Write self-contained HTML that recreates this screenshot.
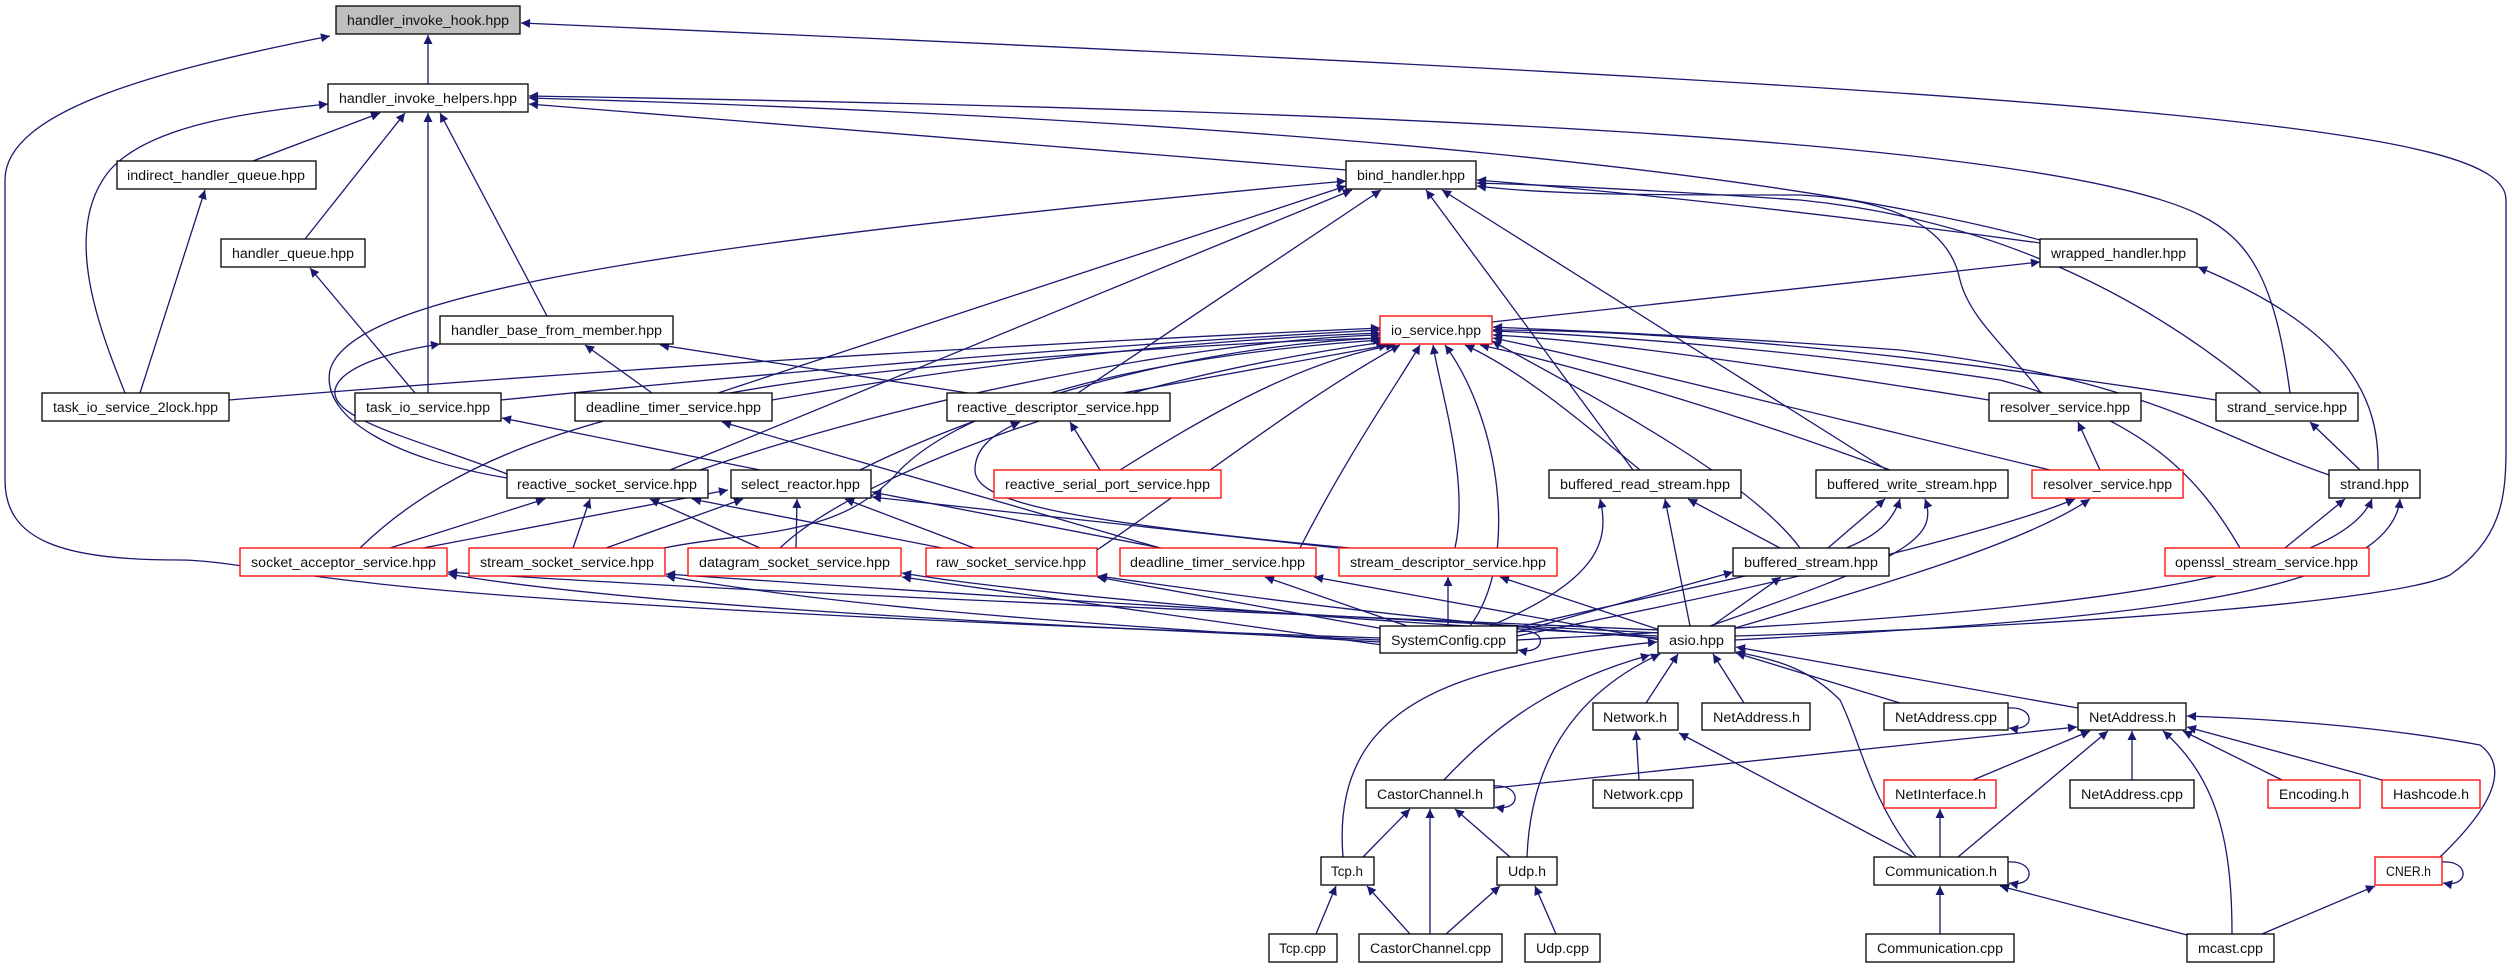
<!DOCTYPE html>
<html><head><meta charset="utf-8"><style>
html,body{margin:0;padding:0;background:#fff;}
svg{display:block}
text{font-family:"Liberation Sans","DejaVu Sans",sans-serif;font-size:13.5px;fill:#111;}
.e{fill:none;stroke:#191970;stroke-width:1.3;marker-end:url(#a)}
.b{fill:#fff;stroke:#000;stroke-width:1.3}
.r{fill:#fff;stroke:#ff0000;stroke-width:1.3}
</style></head><body>
<svg width="2512" height="968" viewBox="0 0 2512 968" xmlns="http://www.w3.org/2000/svg">
<defs><marker id="a" viewBox="0 0 10 10" refX="10" refY="5" markerWidth="12" markerHeight="9" markerUnits="userSpaceOnUse" orient="auto"><path d="M0,0 L10,5 L0,10 z" fill="#191970"/></marker></defs>
<g>
<path class="e" d="M428,84 L428,35"/>
<path class="e" d="M1380,638 C1000,625 700,610 500,595 C300,580 230,560 180,560 C60,560 5,540 5,480 L5,180 C5,110 160,70 330,36"/>
<path class="e" d="M1735,636 C2100,625 2400,600 2450,575 C2500,540 2506,500 2506,450 L2506,200 C2506,130 2200,95 521,23"/>
<path class="e" d="M253,161 L380,113"/>
<path class="e" d="M125,393 C100,330 60,230 110,170 C150,125 250,112 328,104"/>
<path class="e" d="M305,239 L405,113"/>
<path class="e" d="M428,393 L428,113"/>
<path class="e" d="M547,316 L440,113"/>
<path class="e" d="M1346,170 L529,104"/>
<path class="e" d="M2040,240 C1800,175 1300,120 529,98"/>
<path class="e" d="M2290,393 C2275,280 2250,240 2200,215 C2050,140 1400,110 529,96"/>
<path class="e" d="M140,393 L205,190"/>
<path class="e" d="M415,393 L310,268"/>
<path class="e" d="M652,393 L585,345"/>
<path class="e" d="M507,474 C420,440 330,420 335,390 C340,365 400,350 440,344"/>
<path class="e" d="M968,393 L660,345"/>
<path class="e" d="M507,478 C400,460 320,420 330,370 C350,300 600,250 1346,181"/>
<path class="e" d="M718,393 L1346,186"/>
<path class="e" d="M670,470 L1352,190"/>
<path class="e" d="M1078,393 L1381,190"/>
<path class="e" d="M1633,470 L1426,190"/>
<path class="e" d="M1887,470 L1442,190"/>
<path class="e" d="M2040,243 C1800,210 1600,190 1477,180"/>
<path class="e" d="M2041,393 C2010,350 1970,320 1960,280 C1950,230 1900,200 1800,195 C1650,195 1550,195 1477,186"/>
<path class="e" d="M2261,393 C2150,300 2000,220 1800,200 C1650,190 1550,185 1477,183"/>
<path class="e" d="M1492,322 L2040,262"/>
<path class="e" d="M2378,470 C2380,400 2350,330 2198,267"/>
<path class="e" d="M229,400 C600,370 1000,345 1380,328"/>
<path class="e" d="M501,400 C800,370 1100,345 1380,330"/>
<path class="e" d="M772,400 C1000,360 1200,340 1380,333"/>
<path class="e" d="M1123,393 L1388,345"/>
<path class="e" d="M1120,470 C1200,420 1300,360 1395,345"/>
<path class="e" d="M700,470 C900,400 1200,340 1380,335"/>
<path class="e" d="M860,470 C1000,400 1200,345 1382,338"/>
<path class="e" d="M360,548 C450,460 600,400 900,370 C1100,350 1300,340 1380,338"/>
<path class="e" d="M664,548 C750,530 840,540 900,470 C1000,370 1300,345 1382,340"/>
<path class="e" d="M780,548 C850,480 1100,380 1385,342"/>
<path class="e" d="M1097,550 C1200,480 1300,400 1400,345"/>
<path class="e" d="M1300,548 C1350,450 1400,380 1420,345"/>
<path class="e" d="M1455,548 C1470,480 1440,390 1433,345"/>
<path class="e" d="M1470,626 C1520,560 1500,420 1445,345"/>
<path class="e" d="M1640,470 C1580,420 1520,370 1465,345"/>
<path class="e" d="M1890,470 C1700,400 1550,360 1480,345"/>
<path class="e" d="M1800,548 C1750,480 1600,400 1492,341"/>
<path class="e" d="M1989,400 C1800,370 1600,340 1493,335"/>
<path class="e" d="M2050,470 C1800,410 1600,360 1493,338"/>
<path class="e" d="M2216,400 C1900,350 1650,330 1493,330"/>
<path class="e" d="M2329,475 C2200,430 2150,380 1900,350 C1700,335 1550,330 1493,327"/>
<path class="e" d="M2240,548 C2200,480 2150,420 2000,380 C1800,350 1600,335 1493,331"/>
<path class="e" d="M760,470 L502,418"/>
<path class="e" d="M1160,548 L722,422"/>
<path class="e" d="M1100,470 L1070,422"/>
<path class="e" d="M1350,548 C1050,520 975,500 975,470 C975,450 990,435 1020,422"/>
<path class="e" d="M390,548 L545,499"/>
<path class="e" d="M573,548 L590,499"/>
<path class="e" d="M760,548 L650,499"/>
<path class="e" d="M942,548 L692,499"/>
<path class="e" d="M423,548 L728,490"/>
<path class="e" d="M606,548 L743,499"/>
<path class="e" d="M796,548 L797,499"/>
<path class="e" d="M974,548 L845,499"/>
<path class="e" d="M1161,548 L872,492"/>
<path class="e" d="M1338,548 L872,497"/>
<path class="e" d="M1380,640 C900,620 600,600 448,574"/>
<path class="e" d="M1380,642 C1000,620 800,600 666,576"/>
<path class="e" d="M1382,645 L902,577"/>
<path class="e" d="M1390,630 L1097,577"/>
<path class="e" d="M1407,626 L1265,577"/>
<path class="e" d="M1448,626 L1448,577"/>
<path class="e" d="M1490,626 C1600,580 1610,540 1600,499"/>
<path class="e" d="M1515,628 C1800,560 1880,560 1900,499"/>
<path class="e" d="M1517,632 L1733,572"/>
<path class="e" d="M1517,636 C1800,580 2000,530 2075,499"/>
<path class="e" d="M1517,640 C1900,620 2330,600 2372,499"/>
<path class="e" d="M1517,632 C1548,626 1548,656 1518,650"/>
<path class="e" d="M1658,630 C1200,610 700,590 448,572"/>
<path class="e" d="M1658,633 C1200,610 900,590 666,574"/>
<path class="e" d="M1658,636 C1300,620 1000,590 902,573"/>
<path class="e" d="M1658,638 C1400,620 1200,590 1098,576"/>
<path class="e" d="M1660,640 L1314,577"/>
<path class="e" d="M1660,630 L1500,577"/>
<path class="e" d="M1690,626 L1665,499"/>
<path class="e" d="M1710,626 C1900,560 1940,540 1925,499"/>
<path class="e" d="M1712,626 L1781,577"/>
<path class="e" d="M1735,628 C1900,580 2030,540 2090,499"/>
<path class="e" d="M1735,640 C2100,620 2390,600 2400,499"/>
<path class="e" d="M1780,548 L1688,499"/>
<path class="e" d="M1828,548 L1885,499"/>
<path class="e" d="M2100,470 L2078,422"/>
<path class="e" d="M2360,470 L2310,422"/>
<path class="e" d="M2285,548 L2345,499"/>
<path class="e" d="M1646,703 L1678,654"/>
<path class="e" d="M1744,703 L1713,654"/>
<path class="e" d="M1900,703 L1736,653"/>
<path class="e" d="M2078,708 L1736,647"/>
<path class="e" d="M1444,780 C1500,720 1560,680 1650,655"/>
<path class="e" d="M1343,857 C1335,760 1380,700 1500,670 C1560,655 1620,645 1657,642"/>
<path class="e" d="M1527,857 C1530,780 1560,700 1660,654"/>
<path class="e" d="M1916,857 C1870,800 1860,740 1840,700 C1810,670 1780,660 1736,652"/>
<path class="e" d="M1639,780 L1636,731"/>
<path class="e" d="M1913,857 L1679,733"/>
<path class="e" d="M1494,786 C1522,784 1522,812 1495,807"/>
<path class="e" d="M1494,788 L2077,727"/>
<path class="e" d="M1973,780 L2090,731"/>
<path class="e" d="M1958,857 L2108,731"/>
<path class="e" d="M2132,780 L2132,731"/>
<path class="e" d="M2232,934 C2232,850 2220,780 2163,731"/>
<path class="e" d="M2282,780 L2183,731"/>
<path class="e" d="M2382,780 L2187,727"/>
<path class="e" d="M2440,857 C2510,790 2500,760 2480,745 C2400,730 2300,720 2187,716"/>
<path class="e" d="M1940,857 L1940,809"/>
<path class="e" d="M2008,862 C2036,860 2036,888 2009,883"/>
<path class="e" d="M1940,934 L1940,886"/>
<path class="e" d="M2187,935 L2000,886"/>
<path class="e" d="M2262,934 L2375,886"/>
<path class="e" d="M2442,862 C2470,860 2470,888 2443,883"/>
<path class="e" d="M1316,934 L1336,886"/>
<path class="e" d="M1410,934 L1367,886"/>
<path class="e" d="M1363,857 L1410,809"/>
<path class="e" d="M1430,934 L1430,809"/>
<path class="e" d="M1510,857 L1455,809"/>
<path class="e" d="M1446,934 L1500,886"/>
<path class="e" d="M1556,934 L1535,886"/>
<path class="e" d="M2008,708 C2036,706 2036,732 2009,728"/>
</g>
<g>
<rect x="336" y="6" width="184" height="28" fill="#bfbfbf" stroke="#000" stroke-width="1.3"/><text x="347" y="25" textLength="162" lengthAdjust="spacingAndGlyphs">handler_invoke_hook.hpp</text>
<rect class="b" x="328" y="84" width="200" height="28"/><text x="339" y="103" textLength="178" lengthAdjust="spacingAndGlyphs">handler_invoke_helpers.hpp</text>
<rect class="b" x="117" y="161" width="199" height="28"/><text x="127" y="180" textLength="178" lengthAdjust="spacingAndGlyphs">indirect_handler_queue.hpp</text>
<rect class="b" x="221" y="239" width="144" height="28"/><text x="232" y="258" textLength="122" lengthAdjust="spacingAndGlyphs">handler_queue.hpp</text>
<rect class="b" x="440" y="316" width="233" height="28"/><text x="451" y="335" textLength="211" lengthAdjust="spacingAndGlyphs">handler_base_from_member.hpp</text>
<rect class="b" x="42" y="393" width="187" height="28"/><text x="53" y="412" textLength="165" lengthAdjust="spacingAndGlyphs">task_io_service_2lock.hpp</text>
<rect class="b" x="355" y="393" width="146" height="28"/><text x="366" y="412" textLength="124" lengthAdjust="spacingAndGlyphs">task_io_service.hpp</text>
<rect class="b" x="575" y="393" width="197" height="28"/><text x="586" y="412" textLength="175" lengthAdjust="spacingAndGlyphs">deadline_timer_service.hpp</text>
<rect class="b" x="507" y="470" width="201" height="28"/><text x="517" y="489" textLength="180" lengthAdjust="spacingAndGlyphs">reactive_socket_service.hpp</text>
<rect class="b" x="731" y="470" width="140" height="28"/><text x="741" y="489" textLength="119" lengthAdjust="spacingAndGlyphs">select_reactor.hpp</text>
<rect class="b" x="1346" y="161" width="130" height="28"/><text x="1357" y="180" textLength="108" lengthAdjust="spacingAndGlyphs">bind_handler.hpp</text>
<rect class="r" x="1380" y="316" width="112" height="28"/><text x="1391" y="335" textLength="90" lengthAdjust="spacingAndGlyphs">io_service.hpp</text>
<rect class="b" x="947" y="393" width="223" height="28"/><text x="957" y="412" textLength="202" lengthAdjust="spacingAndGlyphs">reactive_descriptor_service.hpp</text>
<rect class="r" x="994" y="470" width="227" height="28"/><text x="1005" y="489" textLength="205" lengthAdjust="spacingAndGlyphs">reactive_serial_port_service.hpp</text>
<rect class="b" x="1549" y="470" width="192" height="28"/><text x="1560" y="489" textLength="170" lengthAdjust="spacingAndGlyphs">buffered_read_stream.hpp</text>
<rect class="b" x="2040" y="239" width="157" height="28"/><text x="2051" y="258" textLength="135" lengthAdjust="spacingAndGlyphs">wrapped_handler.hpp</text>
<rect class="b" x="1989" y="393" width="152" height="28"/><text x="2000" y="412" textLength="130" lengthAdjust="spacingAndGlyphs">resolver_service.hpp</text>
<rect class="b" x="2216" y="393" width="142" height="28"/><text x="2227" y="412" textLength="120" lengthAdjust="spacingAndGlyphs">strand_service.hpp</text>
<rect class="b" x="1816" y="470" width="192" height="28"/><text x="1827" y="489" textLength="170" lengthAdjust="spacingAndGlyphs">buffered_write_stream.hpp</text>
<rect class="r" x="2032" y="470" width="151" height="28"/><text x="2043" y="489" textLength="129" lengthAdjust="spacingAndGlyphs">resolver_service.hpp</text>
<rect class="b" x="2329" y="470" width="91" height="28"/><text x="2340" y="489" textLength="69" lengthAdjust="spacingAndGlyphs">strand.hpp</text>
<rect class="r" x="240" y="548" width="207" height="28"/><text x="251" y="567" textLength="185" lengthAdjust="spacingAndGlyphs">socket_acceptor_service.hpp</text>
<rect class="r" x="469" y="548" width="196" height="28"/><text x="480" y="567" textLength="174" lengthAdjust="spacingAndGlyphs">stream_socket_service.hpp</text>
<rect class="r" x="688" y="548" width="213" height="28"/><text x="699" y="567" textLength="191" lengthAdjust="spacingAndGlyphs">datagram_socket_service.hpp</text>
<rect class="r" x="926" y="548" width="171" height="28"/><text x="936" y="567" textLength="150" lengthAdjust="spacingAndGlyphs">raw_socket_service.hpp</text>
<rect class="r" x="1120" y="548" width="196" height="28"/><text x="1130" y="567" textLength="175" lengthAdjust="spacingAndGlyphs">deadline_timer_service.hpp</text>
<rect class="r" x="1339" y="548" width="218" height="28"/><text x="1350" y="567" textLength="196" lengthAdjust="spacingAndGlyphs">stream_descriptor_service.hpp</text>
<rect class="b" x="1733" y="548" width="156" height="28"/><text x="1744" y="567" textLength="134" lengthAdjust="spacingAndGlyphs">buffered_stream.hpp</text>
<rect class="r" x="2165" y="548" width="204" height="28"/><text x="2175" y="567" textLength="183" lengthAdjust="spacingAndGlyphs">openssl_stream_service.hpp</text>
<rect class="b" x="1380" y="626" width="137" height="27"/><text x="1391" y="645" textLength="115" lengthAdjust="spacingAndGlyphs">SystemConfig.cpp</text>
<rect class="b" x="1658" y="626" width="77" height="27"/><text x="1669" y="645" textLength="55" lengthAdjust="spacingAndGlyphs">asio.hpp</text>
<rect class="b" x="1593" y="703" width="85" height="27"/><text x="1603" y="722" textLength="64" lengthAdjust="spacingAndGlyphs">Network.h</text>
<rect class="b" x="1702" y="703" width="108" height="27"/><text x="1713" y="722" textLength="87" lengthAdjust="spacingAndGlyphs">NetAddress.h</text>
<rect class="b" x="1884" y="703" width="124" height="27"/><text x="1895" y="722" textLength="102" lengthAdjust="spacingAndGlyphs">NetAddress.cpp</text>
<rect class="b" x="2078" y="703" width="108" height="27"/><text x="2089" y="722" textLength="87" lengthAdjust="spacingAndGlyphs">NetAddress.h</text>
<rect class="b" x="1366" y="780" width="128" height="28"/><text x="1377" y="799" textLength="106" lengthAdjust="spacingAndGlyphs">CastorChannel.h</text>
<rect class="b" x="1593" y="780" width="100" height="28"/><text x="1603" y="799" textLength="80" lengthAdjust="spacingAndGlyphs">Network.cpp</text>
<rect class="r" x="1884" y="780" width="112" height="28"/><text x="1895" y="799" textLength="91" lengthAdjust="spacingAndGlyphs">NetInterface.h</text>
<rect class="b" x="2070" y="780" width="124" height="28"/><text x="2081" y="799" textLength="102" lengthAdjust="spacingAndGlyphs">NetAddress.cpp</text>
<rect class="r" x="2268" y="780" width="92" height="28"/><text x="2279" y="799" textLength="70" lengthAdjust="spacingAndGlyphs">Encoding.h</text>
<rect class="r" x="2382" y="780" width="98" height="28"/><text x="2393" y="799" textLength="76" lengthAdjust="spacingAndGlyphs">Hashcode.h</text>
<rect class="b" x="1321" y="857" width="53" height="28"/><text x="1331" y="876" textLength="32" lengthAdjust="spacingAndGlyphs">Tcp.h</text>
<rect class="b" x="1497" y="857" width="60" height="28"/><text x="1508" y="876" textLength="38" lengthAdjust="spacingAndGlyphs">Udp.h</text>
<rect class="b" x="1874" y="857" width="134" height="28"/><text x="1885" y="876" textLength="112" lengthAdjust="spacingAndGlyphs">Communication.h</text>
<rect class="r" x="2375" y="857" width="67" height="28"/><text x="2386" y="876" textLength="45" lengthAdjust="spacingAndGlyphs">CNER.h</text>
<rect class="b" x="1269" y="934" width="68" height="28"/><text x="1279" y="953" textLength="47" lengthAdjust="spacingAndGlyphs">Tcp.cpp</text>
<rect class="b" x="1359" y="934" width="143" height="28"/><text x="1370" y="953" textLength="121" lengthAdjust="spacingAndGlyphs">CastorChannel.cpp</text>
<rect class="b" x="1525" y="934" width="75" height="28"/><text x="1536" y="953" textLength="53" lengthAdjust="spacingAndGlyphs">Udp.cpp</text>
<rect class="b" x="1866" y="934" width="148" height="28"/><text x="1877" y="953" textLength="126" lengthAdjust="spacingAndGlyphs">Communication.cpp</text>
<rect class="b" x="2187" y="934" width="87" height="28"/><text x="2198" y="953" textLength="65" lengthAdjust="spacingAndGlyphs">mcast.cpp</text>
</g>
</svg>
</body></html>
